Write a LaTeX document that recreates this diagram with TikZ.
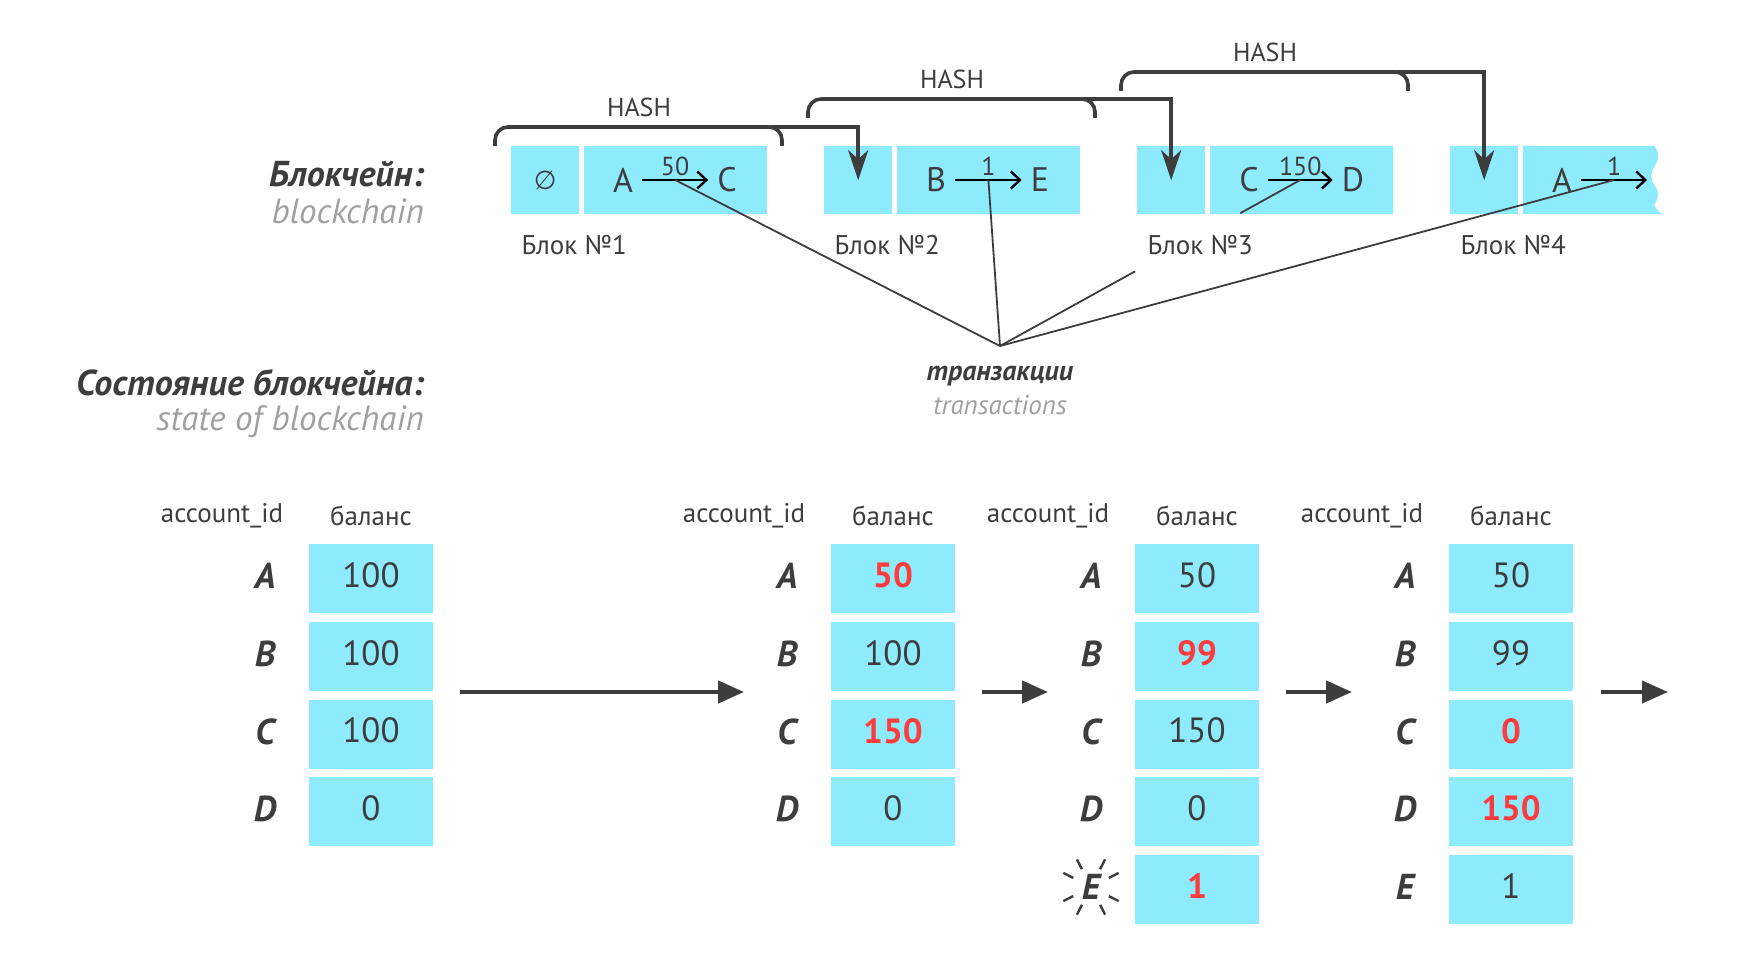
\documentclass[tikz,border=0pt]{standalone}
\usepackage{fontspec}
\setmainfont{PT Sans}
\newfontfamily\symbolfont{DejaVu Sans}
\usepackage{xcolor}
\definecolor{CHAINcyan}{HTML}{8EEAFD}
\definecolor{CHAINdark}{HTML}{3D3D3D}
\definecolor{CHAINgray}{HTML}{A0A0A0}
\definecolor{CHAINred}{HTML}{FF3B3B}
\usetikzlibrary{arrows.meta,calc}
\newcommand\newval[1]{\textcolor{CHAINred}{\bfseries #1}}

\begin{document}
\begin{tikzpicture}[x=1pt,y=-1pt,
    chaincell/.style={fill=CHAINcyan,inner sep=0pt,minimum height=68pt,anchor=north west},
    linkcell/.style={chaincell,minimum width=68pt},
    txcell/.style={chaincell,minimum width=183pt},
    txtext/.style={text=CHAINdark,font=\fontsize{34}{40}\selectfont,inner sep=9pt},
    amount/.style={text=CHAINdark,font=\fontsize{26}{30}\selectfont,inner sep=0pt},
    txarrow/.style={black,line width=2.4pt,-{Straight Barb[length=9pt,width=17pt,line width=2.4pt]}},
    hashline/.style={CHAINdark,line width=3.6pt,rounded corners=13pt},
    hasharrow/.style={CHAINdark,line width=3.6pt,-{Stealth[length=30pt,width=20pt,inset=9pt]}},
    hashlabel/.style={text=CHAINdark,font=\fontsize{26}{30}\selectfont},
    blocklabel/.style={text=CHAINdark,font=\fontsize{27}{30}\selectfont,anchor=west},
    txline/.style={CHAINdark,line width=1.8pt},
    title/.style={text=CHAINdark,font=\fontsize{36}{40}\selectfont\bfseries\itshape,inner sep=0pt},
    subtitle/.style={text=CHAINgray,font=\fontsize{35}{40}\selectfont\itshape,inner sep=0pt},
    header/.style={text=CHAINdark,font=\fontsize{27}{30}\selectfont},
    balcell/.style={fill=CHAINcyan,text=CHAINdark,inner sep=0pt,minimum width=124pt,minimum height=69pt,text depth=7pt,font=\fontsize{35}{40}\selectfont},
    rowkey/.style={text=CHAINdark,font=\fontsize{36}{40}\selectfont\bfseries\itshape},
    statearrow/.style={CHAINdark,line width=4pt,-{Triangle[length=26pt,width=22pt]}},
    sparkle/.style={CHAINdark,line width=2.4pt}]
\useasboundingbox (0,0) rectangle (1760,976);

% titles
\node[title,anchor=east] (tchain) at (424,174) {Блокчейн:};
\node[subtitle,anchor=east] (schain) at (424,211) {blockchain};
\node[title,anchor=east] (tstate) at (424,383) {Состояние блокчейна:};
\node[subtitle,anchor=east] (sstate) at (424,422) {state of blockchain};

% blocks
\foreach \k in {1,2,3}{
  \node[linkcell] (b\k l) at ({511+313*(\k-1)},146) {};
  \node[txcell] (b\k t) at ({584+313*(\k-1)},146) {};
}
\node[linkcell] (b4l) at (1450,146) {};
\fill[CHAINcyan] (1523,146) -- (1654,146)
  .. controls (1660,152) and (1659,160) .. (1654,167)
  .. controls (1650,173) and (1650,180) .. (1655,186)
  .. controls (1660,192) and (1658,200) .. (1654,205)
  .. controls (1656,209) and (1659,212) .. (1662,214)
  -- (1523,214) -- cycle;
\foreach \k in {1,2,3,4}
  \node[blocklabel] (lab\k) at ({518+313*(\k-1)},245) {Блок №\k};

\node[text=CHAINdark,font=\fontsize{26}{30}\symbolfont] (empty) at (b1l.center) {∅};

\node[txtext] (b1from) at (623,180) {A};
\node[txtext] (b1to) at (727,180) {C};
\draw[txarrow] (b1from.east) -- node[amount,above=3pt] (a1) {50} coordinate[midway] (t1) (b1to.west);
\node[txtext] (b2from) at (936,180) {B};
\node[txtext] (b2to) at (1040,180) {E};
\draw[txarrow] (b2from.east) -- node[amount,above=3pt] (a2) {1} coordinate[midway] (t2) (b2to.west);
\node[txtext] (b3from) at (1249,180) {C};
\node[txtext] (b3to) at (1353,180) {D};
\draw[txarrow] (b3from.east) -- node[amount,above=3pt] (a3) {150} coordinate[midway] (t3) (b3to.west);
\node[txtext] (b4from) at (1562,180) {A};
\coordinate (b4to) at (1647,180);
\draw[txarrow] (b4from.east) -- node[amount,above=3pt] (a4) {1} coordinate[midway] (t4) (b4to);

% hash links
\foreach \k/\top in {1/127,2/99,3/72}{
  \draw[hashline] ({495+313*(\k-1)},{\top+19}) -- ({495+313*(\k-1)},\top)
    -- ({782+313*(\k-1)},\top) -- ({782+313*(\k-1)},{\top+19});
  \coordinate (h\k) at ({770+313*(\k-1)},\top);
  \node[hashlabel] (hl\k) at ({639+313*(\k-1)},{\top-20}) {HASH};
}
\draw[hasharrow] (h1) -| (b2l.center);
\draw[hasharrow] (h2) -| (b3l.center);
\draw[hasharrow] (h3) -| (b4l.center);

% transactions
\coordinate (txp) at (1000,346);
\node[title,font=\fontsize{28}{30}\selectfont\bfseries\itshape] (tx) at (1000,376) {транзакции};
\node[subtitle,font=\fontsize{27}{30}\selectfont\itshape] (txe) at (1000,405) {transactions};
\draw[txline] (txp) -- (t1);
\draw[txline] (txp) -- (t2);
\draw[txline] (txp) -- ($(txp)!0.45!(t3)$);
\draw[txline] ($(txp)!0.8!(t3)$) -- (t3);
\draw[txline] (txp) -- (t4);

% state tables
\foreach \L/\t in {309/1,831/2,1135/3,1449/4}{
  \node[header] (h\t a) at ({\L-87},516) {account\_id};
  \node[header] (h\t b) at ({\L+62},516) {баланс};
}
\foreach \key/\val [count=\i] in {A/100,B/100,C/100,D/0}{
  \node[rowkey] (k1\key) at (265,{576+77.75*(\i-1)}) {\key};
  \node[balcell] (v1\key) at (371,{578.5+77.75*(\i-1)}) {\val};
}
\foreach \key/\val [count=\i] in {A/\newval{50},B/100,C/\newval{150},D/0}{
  \node[rowkey] (k2\key) at (787,{576+77.75*(\i-1)}) {\key};
  \node[balcell] (v2\key) at (893,{578.5+77.75*(\i-1)}) {\val};
}
\foreach \key/\val [count=\i] in {A/50,B/\newval{99},C/150,D/0,E/\newval{1}}{
  \node[rowkey] (k3\key) at (1091,{576+77.75*(\i-1)}) {\key};
  \node[balcell] (v3\key) at (1197,{578.5+77.75*(\i-1)}) {\val};
}
\foreach \key/\val [count=\i] in {A/50,B/99,C/\newval{0},D/\newval{150},E/1}{
  \node[rowkey] (k4\key) at (1405,{576+77.75*(\i-1)}) {\key};
  \node[balcell] (v4\key) at (1511,{578.5+77.75*(\i-1)}) {\val};
}
\foreach \a in {27,63,117,153,207,243,297,333}
  \draw[sparkle] ([shift={(\a:20)}]k3E.center) -- ([shift={(\a:31)}]k3E.center);

\coordinate (s1) at (460,692);  \coordinate (e1) at (744,692);
\coordinate (s2) at (982,692);  \coordinate (e2) at (1048,692);
\coordinate (s3) at (1286,692); \coordinate (e3) at (1352,692);
\coordinate (s4) at (1601,692); \coordinate (e4) at (1668,692);
\foreach \n in {1,2,3,4}
  \draw[statearrow] (s\n) -- (e\n);
\end{tikzpicture}
\end{document}
